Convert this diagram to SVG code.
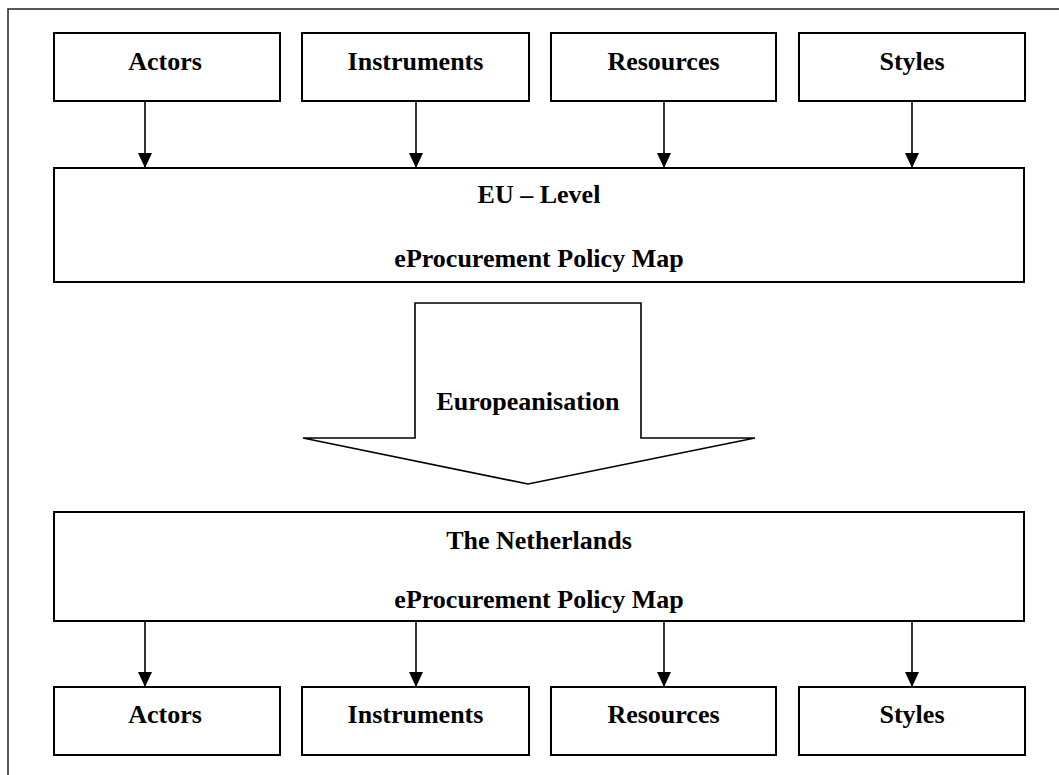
<svg xmlns="http://www.w3.org/2000/svg" width="1059" height="775" viewBox="0 0 1059 775">
  <style>
    .box { fill: #ffffff; stroke: #000000; stroke-width: 2; }
    .frame { fill: none; stroke: #222222; stroke-width: 1.5; }
    .lbl { font-family: "Liberation Serif", "Times New Roman", serif; font-weight: bold; font-size: 26px; fill: #000000; text-anchor: middle; }
    .conn { stroke: #000000; stroke-width: 1.6; fill: none; marker-end: url(#head); }
  </style>
  <defs>
    <marker id="head" markerWidth="15" markerHeight="14" refX="15" refY="7" orient="auto" markerUnits="userSpaceOnUse" viewBox="0 0 15 14">
      <path d="M0,0 L15,7 L0,14 Z" fill="#000000"/>
    </marker>
  </defs>
  <rect width="1059" height="775" fill="#ffffff"/>

  <!-- surrounding frame -->
  <rect class="frame" x="8" y="9" width="1080" height="800"/>

  <!-- EU-level inputs -->
  <g id="eu-actors">
    <rect class="box" x="54" y="33" width="226" height="68"/>
    <text class="lbl" x="165" y="70">Actors</text>
  </g>
  <g id="eu-instruments">
    <rect class="box" x="302" y="33" width="227" height="68"/>
    <text class="lbl" x="415.5" y="70">Instruments</text>
  </g>
  <g id="eu-resources">
    <rect class="box" x="551" y="33" width="225" height="68"/>
    <text class="lbl" x="663.5" y="70">Resources</text>
  </g>
  <g id="eu-styles">
    <rect class="box" x="799" y="33" width="226" height="68"/>
    <text class="lbl" x="912" y="70">Styles</text>
  </g>

  <!-- EU-level policy map -->
  <g id="eu-map">
    <rect class="box" x="54" y="168" width="970" height="114"/>
    <text class="lbl" x="539" y="203">EU – Level</text>
    <text class="lbl" x="539" y="267">eProcurement Policy Map</text>
  </g>

  <!-- block arrow -->
  <g id="europeanisation">
    <path d="M415,303 L641,303 L641,438 L755,438 L528,484 L303,438 L415,438 Z" fill="#ffffff" stroke="#000000" stroke-width="1.6" stroke-linejoin="miter"/>
    <text class="lbl" x="528" y="410">Europeanisation</text>
  </g>

  <!-- national policy map -->
  <g id="nl-map">
    <rect class="box" x="54" y="512" width="970" height="109"/>
    <text class="lbl" x="539" y="549">The Netherlands</text>
    <text class="lbl" x="539" y="608">eProcurement Policy Map</text>
  </g>

  <!-- national outputs -->
  <g id="nl-actors">
    <rect class="box" x="54" y="687" width="226" height="68"/>
    <text class="lbl" x="165" y="723">Actors</text>
  </g>
  <g id="nl-instruments">
    <rect class="box" x="302" y="687" width="227" height="68"/>
    <text class="lbl" x="415.5" y="723">Instruments</text>
  </g>
  <g id="nl-resources">
    <rect class="box" x="551" y="687" width="225" height="68"/>
    <text class="lbl" x="663.5" y="723">Resources</text>
  </g>
  <g id="nl-styles">
    <rect class="box" x="799" y="687" width="226" height="68"/>
    <text class="lbl" x="912" y="723">Styles</text>
  </g>

  <!-- connectors -->
  <g id="connectors">
    <line class="conn" x1="145" y1="101" x2="145" y2="168"/>
    <line class="conn" x1="416" y1="101" x2="416" y2="168"/>
    <line class="conn" x1="664" y1="101" x2="664" y2="168"/>
    <line class="conn" x1="912" y1="101" x2="912" y2="168"/>
    <line class="conn" x1="145" y1="621" x2="145" y2="687"/>
    <line class="conn" x1="416" y1="621" x2="416" y2="687"/>
    <line class="conn" x1="664" y1="621" x2="664" y2="687"/>
    <line class="conn" x1="912" y1="621" x2="912" y2="687"/>
  </g>
</svg>
